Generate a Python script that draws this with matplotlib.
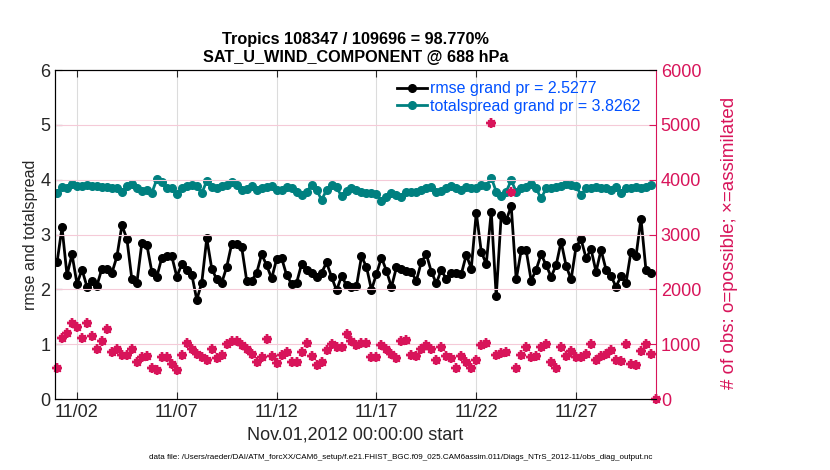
import numpy as np
import matplotlib
matplotlib.use('Agg')
import matplotlib.pyplot as plt

plt.rcParams['font.family'] = ['Liberation Sans', 'DejaVu Sans']

# 6-hourly bins, Nov 01 00Z .. Dec 01 00Z
rmse = [2.49, 3.13, 2.26, 2.64, 2.10, 2.36, 2.05, 2.16, 2.07, 2.38,
        2.38, 2.30, 2.60, 3.17, 2.92, 2.18, 2.12, 2.85, 2.81, 2.32,
        2.23, 2.58, 2.60, 2.60, 2.23, 2.46, 2.36, 2.27, 1.81, 2.12,
        2.93, 2.38, 2.18, 2.12, 2.41, 2.83, 2.83, 2.77, 2.16, 2.16,
        2.30, 2.64, 2.44, 2.20, 2.55, 2.57, 2.26, 2.10, 2.12, 2.46,
        2.36, 2.29, 2.22, 2.30, 2.49, 2.23, 1.98, 2.24, 2.08, 2.05,
        2.06, 2.60, 2.41, 1.99, 2.28, 2.58, 2.34, 2.04, 2.40, 2.38,
        2.34, 2.31, 2.16, 2.50, 2.64, 2.32, 2.11, 2.36, 2.18, 2.29,
        2.29, 2.28, 2.63, 2.38, 3.40, 2.69, 2.46, 3.42, 1.87, 3.36,
        3.26, 3.52, 2.18, 2.71, 2.71, 2.16, 2.36, 2.64, 2.44, 2.23,
        2.44, 2.87, 2.43, 2.18, 2.78, 2.91, 2.57, 2.73, 2.32, 2.72,
        2.36, 2.24, 2.05, 2.24, 2.12, 2.69, 2.60, 3.29, 2.35, 2.30,
        np.nan]

spread = [3.75, 3.86, 3.84, 3.92, 3.88, 3.88, 3.90, 3.88, 3.88, 3.87,
          3.86, 3.85, 3.84, 3.77, 3.88, 3.93, 3.84, 3.80, 3.81, 3.76,
          4.01, 3.96, 3.84, 3.84, 3.74, 3.84, 3.88, 3.90, 3.88, 3.75,
          3.98, 3.87, 3.84, 3.88, 3.90, 3.95, 3.90, 3.81, 3.83, 3.88,
          3.81, 3.84, 3.86, 3.88, 3.81, 3.82, 3.86, 3.84, 3.78, 3.72,
          3.78, 3.90, 3.82, 3.63, 3.81, 3.90, 3.86, 3.70, 3.80, 3.84,
          3.81, 3.78, 3.75, 3.75, 3.74, 3.62, 3.68, 3.76, 3.72, 3.69,
          3.78, 3.78, 3.78, 3.81, 3.84, 3.86, 3.78, 3.80, 3.84, 3.88,
          3.84, 3.81, 3.86, 3.84, 3.84, 3.90, 3.88, 4.04, 3.78, 3.70,
          3.78, 3.99, 3.78, 3.84, 3.87, 3.92, 3.84, 3.66, 3.84, 3.84,
          3.86, 3.88, 3.92, 3.90, 3.88, 3.72, 3.84, 3.84, 3.87, 3.84,
          3.84, 3.81, 3.87, 3.75, 3.84, 3.84, 3.86, 3.84, 3.87, 3.90,
          np.nan]

nobs_poss = [560, 1120, 1210, 1380, 1320, 1120, 1380, 1150, 920, 1050,
             1270, 860, 920, 800, 800, 920, 680, 770, 780, 560,
             530, 770, 770, 640, 530, 800, 1030, 920, 830, 760,
             710, 920, 740, 800, 1000, 1050, 1060, 980, 910, 830,
             680, 770, 1090, 780, 660, 800, 860, 680, 680, 860,
             1020, 780, 620, 680, 890, 1000, 940, 950, 1190, 1050,
             980, 1020, 1030, 770, 770, 980, 910, 830, 740, 1060,
             1080, 800, 780, 910, 980, 910, 710, 940, 780, 740,
             560, 780, 680, 560, 710, 980, 1020, 5030, 800, 840,
             850, 3780, 560, 800, 940, 760, 780, 950, 1000, 680,
             560, 940, 780, 880, 770, 760, 830, 1000, 720, 780,
             830, 890, 710, 700, 1000, 640, 620, 880, 1000, 820,
             0]
nobs_used = list(nobs_poss)

tick_days = [1, 6, 11, 16, 21, 26]
tick_labels = ['11/02', '11/07', '11/12', '11/17', '11/22', '11/27']

days = np.arange(len(rmse)) / 4.0

teal = '#008080'
crimson = '#D8145A'
blue = '#0050FF'
dark = '#262626'

fig = plt.figure(figsize=(8.3, 4.7), dpi=100)
ax = fig.add_axes([0.0663, 0.151, 0.724, 0.700])
ax2 = ax.twinx()

# left axis: rmse / spread
ax.plot(days, rmse, color='black', lw=2, marker='o', ms=5.5,
        label='rmse grand pr = 2.5277')
ax.plot(days, spread, color=teal, lw=2, marker='o', ms=5.5,
        label='totalspread grand pr = 3.8262')
ax.set_ylim(0, 6)
ax.set_xlim(-0.1, 30.0)
ax.set_yticks(range(0, 7))
ax.set_xticks(tick_days)
ax.set_xticklabels(tick_labels)
ax.tick_params(axis='both', labelsize=13, direction='in', length=5,
               top=True, colors=dark)
ax.xaxis.grid(True, color='#DCDCDC', linewidth=0.8)
ax.set_ylabel('rmse and totalspread', fontsize=11.5, color=dark)
ax.yaxis.set_label_coords(-0.029, 0.5)
ax.set_xlabel('Nov.01,2012 00:00:00 start', fontsize=13, color=dark,
              labelpad=4)
ax.spines['right'].set_visible(False)

leg = ax.legend(loc='upper right', bbox_to_anchor=(0.985, 0.985),
                frameon=False, fontsize=11.5, handlelength=1.9,
                borderaxespad=0.0, labelspacing=0.15, handletextpad=0.2)
for t in leg.get_texts():
    t.set_color(blue)

# right axis: number of obs (drawn on top)
ax2.set_zorder(ax.get_zorder() + 1)
ax2.patch.set_visible(False)
ax2.plot(days, nobs_poss, linestyle='none', marker='o', ms=4.5,
         color=crimson, mec=crimson, clip_on=False)
ax2.plot(days, nobs_used, linestyle='none', marker=(4, 2, 0), ms=7.5,
         mew=1.7, color=crimson, clip_on=False)
ax2.plot(days, nobs_used, linestyle='none', marker=(4, 2, 45), ms=6.5,
         mew=1.3, color=crimson, clip_on=False)
ax2.set_ylim(0, 6000)
ax2.set_yticks(range(0, 6001, 1000))
ax2.tick_params(axis='y', colors=crimson, labelsize=13, direction='in',
                length=5)
ax2.spines['right'].set_color(crimson)
ax2.yaxis.grid(True, color='#F5CAD8', linewidth=0.8)
ax2.set_axisbelow(True)
ax2.set_ylabel('# of obs: o=possible; \u00d7=assimilated', color=crimson,
               fontsize=13.5)
ax2.yaxis.set_label_coords(1.108, 0.475)

ax.set_title('Tropics 108347 / 109696 = 98.770%\n'
             'SAT_U_WIND_COMPONENT @ 688 hPa',
             fontsize=11.7, fontweight='bold', linespacing=1.25, pad=6)

fig.text(0.483, 0.026,
         'data file: /Users/raeder/DAI/ATM_forcXX/CAM6_setup/f.e21.FHIST_BGC.f09_025.'
         'CAM6assim.011/Diags_NTrS_2012-11/obs_diag_output.nc',
         fontsize=5.8, ha='center', va='center')

fig.savefig('out.png', dpi=100)
